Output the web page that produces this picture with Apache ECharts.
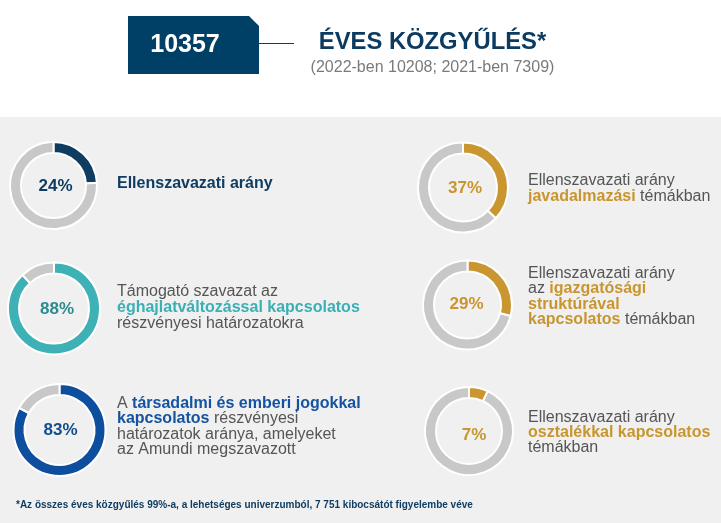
<!DOCTYPE html>
<html>
<head>
<meta charset="utf-8">
<script src="https://cdn.jsdelivr.net/npm/echarts@6/dist/echarts.min.js"></script>
<style>html,body{margin:0;padding:0;background:#fff;}#c{width:721px;height:523px;}</style>
</head>
<body>
<div id="c"></div>
<script>
// ---- data ----
const headlineValue = '10357';
const headlineTitle = 'ÉVES KÖZGYŰLÉS*';
const headlineSub = '(2022-ben 10208; 2021-ben 7309)';
const values = [24, 88, 83, 37, 29, 7];
const labels = [
  ['{b|Ellenszavazati arány}'],
  ['{r|Támogató szavazat az}', '{b|éghajlatváltozással kapcsolatos}', '{r|részvényesi határozatokra}'],
  ['{r|A }{b|társadalmi és emberi jogokkal}', '{b|kapcsolatos}{r| részvényesi}', '{r|határozatok aránya, amelyeket}', '{r|az Amundi megszavazott}'],
  ['{r|Ellenszavazati arány}', '{b|javadalmazási}{r| témákban}'],
  ['{r|Ellenszavazati arány}', '{r|az }{b|igazgatósági}', '{b|struktúrával}', '{b|kapcsolatos}{r| témákban}'],
  ['{r|Ellenszavazati arány}', '{b|osztalékkal kapcsolatos}', '{r|témákban}']
];
const footnote = '*Az összes éves közgyűlés 99%-a, a lehetséges univerzumból, 7 751 kibocsátót figyelembe véve';

// ---- layout / style ----
const FONT = '"Liberation Sans", Arial, sans-serif';
const ringColors = ['#0f3d62', '#3db1b6', '#0d4f9e', '#c9962f', '#c9962f', '#c9962f'];
const pctColors = ['#0f3d62', '#2d8b8e', '#0f4d8c', '#c8952e', '#c8952e', '#c8952e'];
const boldColors = ['#0f3d62', '#3aafb5', '#1553a0', '#c8952e', '#c8952e', '#c8952e'];
const centers = [[53.5, 185.5], [54, 308.5], [59.5, 430], [463, 187.5], [467.5, 305], [469, 431]];
const outerR = [43.5, 46, 46, 45, 44.5, 44];
const pctOffsets = [[2, 1], [3, 1], [1, 0], [2, 1], [-1, -1], [5, 4]];
const textPos = [[117, 183.5], [117, 307.5], [117, 426.5], [528, 188.5], [528, 296.5], [528, 432.5]];
const lineH = [16, 15.8, 15.3, 15.2, 15.2, 15.2];

const series = values.map((v, i) => ({
  type: 'pie',
  silent: true,
  center: centers[i],
  radius: [outerR[i] - 11, outerR[i]],
  startAngle: 90,
  clockwise: true,
  label: { show: false },
  labelLine: { show: false },
  emphasis: { disabled: true },
  itemStyle: { borderColor: '#ffffff', borderWidth: 2 },
  data: [
    { value: v, itemStyle: { color: ringColors[i] },
      label: { show: true, position: 'center', formatter: '{c}%', color: pctColors[i],
               fontFamily: FONT, fontWeight: 'bold', fontSize: 17, offset: pctOffsets[i] } },
    { value: 100 - v, itemStyle: { color: '#c8c8c8' } }
  ]
}));

const textGraphics = labels.map((lines, i) => ({
  type: 'text',
  z: 10,
  style: {
    x: textPos[i][0], y: textPos[i][1],
    text: lines.join('\n'),
    verticalAlign: 'middle',
    align: 'left',
    font: '16px ' + FONT,
    fill: '#555555',
    lineHeight: lineH[i],
    rich: {
      b: { fontFamily: FONT, fontSize: 16, fontWeight: 'bold', fill: boldColors[i], lineHeight: lineH[i] },
      r: { fontFamily: FONT, fontSize: 16, fontWeight: 'normal', fill: '#555555', lineHeight: lineH[i] }
    }
  }
}));

const chart = echarts.init(document.getElementById('c'), null, { renderer: 'canvas' });
chart.setOption({
  animation: false,
  backgroundColor: '#ffffff',
  graphic: [
    { type: 'rect', z: -10, shape: { x: 0, y: 117, width: 721, height: 406 }, style: { fill: '#f0f0f0' } },
    { type: 'polygon', z: 5, shape: { points: [[128, 16], [249, 16], [259, 26], [259, 74], [128, 74]] }, style: { fill: '#003f66' } },
    { type: 'text', z: 6, style: { x: 185, y: 45, text: headlineValue, align: 'center', verticalAlign: 'middle',
      font: 'bold 25px ' + FONT, fill: '#ffffff' } },
    { type: 'line', z: 5, shape: { x1: 259, y1: 43.5, x2: 294, y2: 43.5 }, style: { stroke: '#0c3b61', lineWidth: 1 } },
    { type: 'text', z: 6, style: { x: 432.5, y: 42, text: headlineTitle, align: 'center', verticalAlign: 'middle',
      font: 'bold 23.8px ' + FONT, fill: '#0c3b61' } },
    { type: 'text', z: 6, style: { x: 432.5, y: 68, text: headlineSub, align: 'center', verticalAlign: 'middle',
      font: '16px ' + FONT, fill: '#7a7a7a' } },
    { type: 'text', z: 6, style: { x: 16, y: 505, text: footnote, align: 'left', verticalAlign: 'middle',
      font: 'bold 10px ' + FONT, fill: '#0f3d62' } }
  ].concat(textGraphics),
  series: series
});
</script>
</body>
</html>
